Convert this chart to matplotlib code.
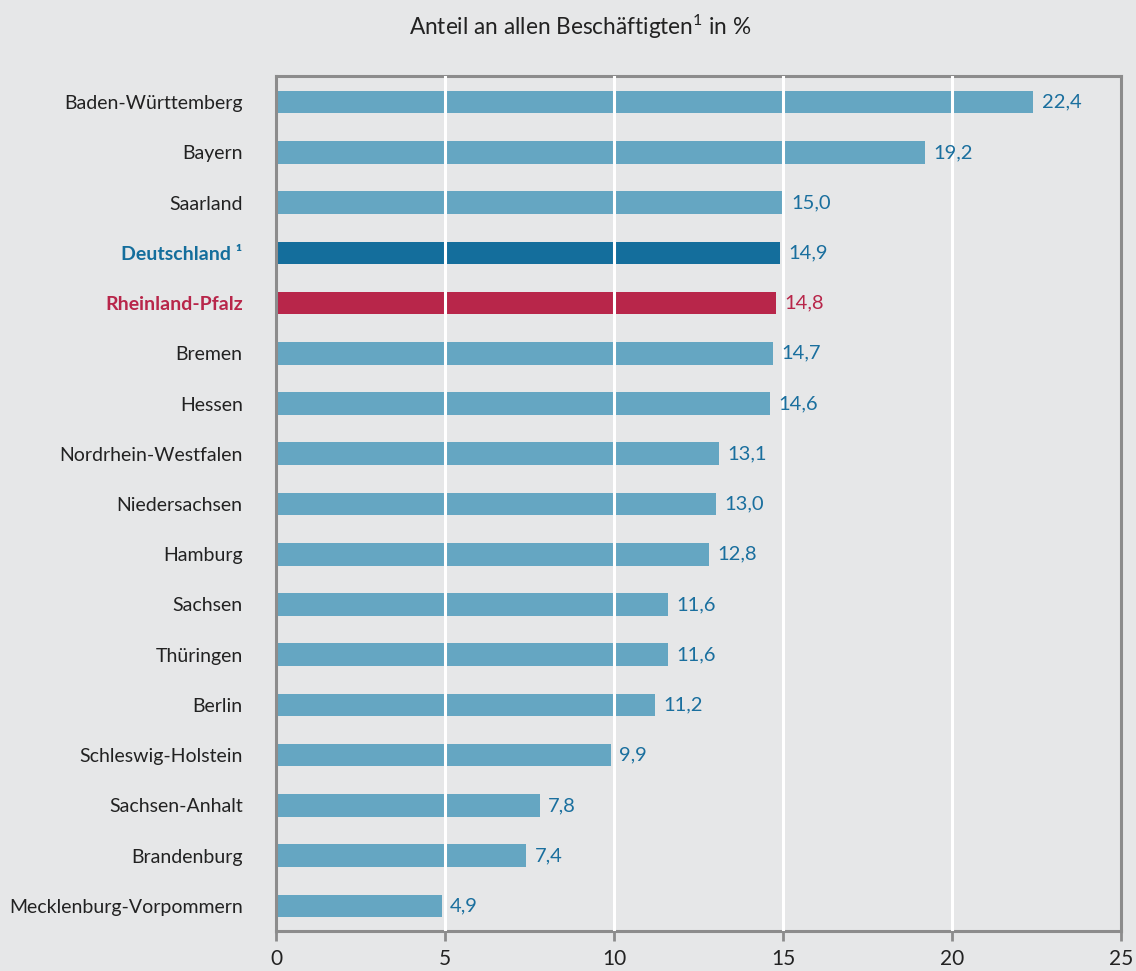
import matplotlib.pyplot as plt

plt.rcParams['font.family'] = ['Lato', 'DejaVu Sans']
plt.rcParams['mathtext.fontset'] = 'custom'
plt.rcParams['mathtext.rm'] = 'Lato'
plt.rcParams['mathtext.it'] = 'Lato'
plt.rcParams['mathtext.default'] = 'rm'

laender = ["Baden-Württemberg", "Bayern", "Saarland", "Deutschland ¹",
           "Rheinland-Pfalz", "Bremen", "Hessen", "Nordrhein-Westfalen",
           "Niedersachsen", "Hamburg", "Sachsen", "Thüringen", "Berlin",
           "Schleswig-Holstein", "Sachsen-Anhalt", "Brandenburg",
           "Mecklenburg-Vorpommern"]
anteil = [22.4, 19.2, 15.0, 14.9, 14.8, 14.7, 14.6, 13.1, 13.0, 12.8,
          11.6, 11.6, 11.2, 9.9, 7.8, 7.4, 4.9]
xticks = [0, 5, 10, 15, 20, 25]

bg = "#e6e7e8"
c_bar = "#65a6c2"
c_de = "#146e9c"
c_rp = "#b8264a"
c_val = "#1a6f9e"
c_axis = "#8c8c8c"

colors = []
for name in laender:
    if name.startswith("Deutschland"):
        colors.append(c_de)
    elif name == "Rheinland-Pfalz":
        colors.append(c_rp)
    else:
        colors.append(c_bar)

fig = plt.figure(figsize=(11.36, 9.71), dpi=100, facecolor=bg)
ax = fig.add_axes([0.243, 0.0412, 0.744, 0.8805], facecolor=bg)

ypos = list(range(len(laender)))
ax.barh(ypos, anteil, height=0.45, color=colors, zorder=2)

# white gridlines over the bars
for x in xticks[1:-1]:
    ax.axvline(x, color="white", lw=2.2, zorder=3)

ax.set_xlim(0, 25)
ax.set_ylim(len(laender) - 0.5, -0.52)

for y, v, name in zip(ypos, anteil, laender):
    col = c_rp if name == "Rheinland-Pfalz" else c_val
    ax.text(v + 0.25, y, f"{v:.1f}".replace(".", ","), va="center",
            ha="left", fontsize=14.5, color=col, zorder=4)

ax.set_yticks(ypos)
ax.set_yticklabels(laender, fontsize=14, color="#222222")
for lbl, name in zip(ax.get_yticklabels(), laender):
    if name.startswith("Deutschland"):
        lbl.set_color(c_de)
        lbl.set_fontweight("bold")
    elif name == "Rheinland-Pfalz":
        lbl.set_color(c_rp)
        lbl.set_fontweight("bold")
ax.tick_params(axis="y", length=0, pad=24)

ax.set_xticks(xticks)
ax.set_xticklabels([str(t) for t in xticks], fontsize=15, color="#222222")
ax.tick_params(axis="x", length=7, width=2, color=c_axis, pad=6)

for s in ax.spines.values():
    s.set_color(c_axis)
    s.set_linewidth(2.2)

fig.text(0.511, 0.972, r"Anteil an allen Beschäftigten$^1$ in %", ha="center",
         va="center", fontsize=16.3, color="#222222")

fig.savefig("out.png", dpi=100, facecolor=bg)
